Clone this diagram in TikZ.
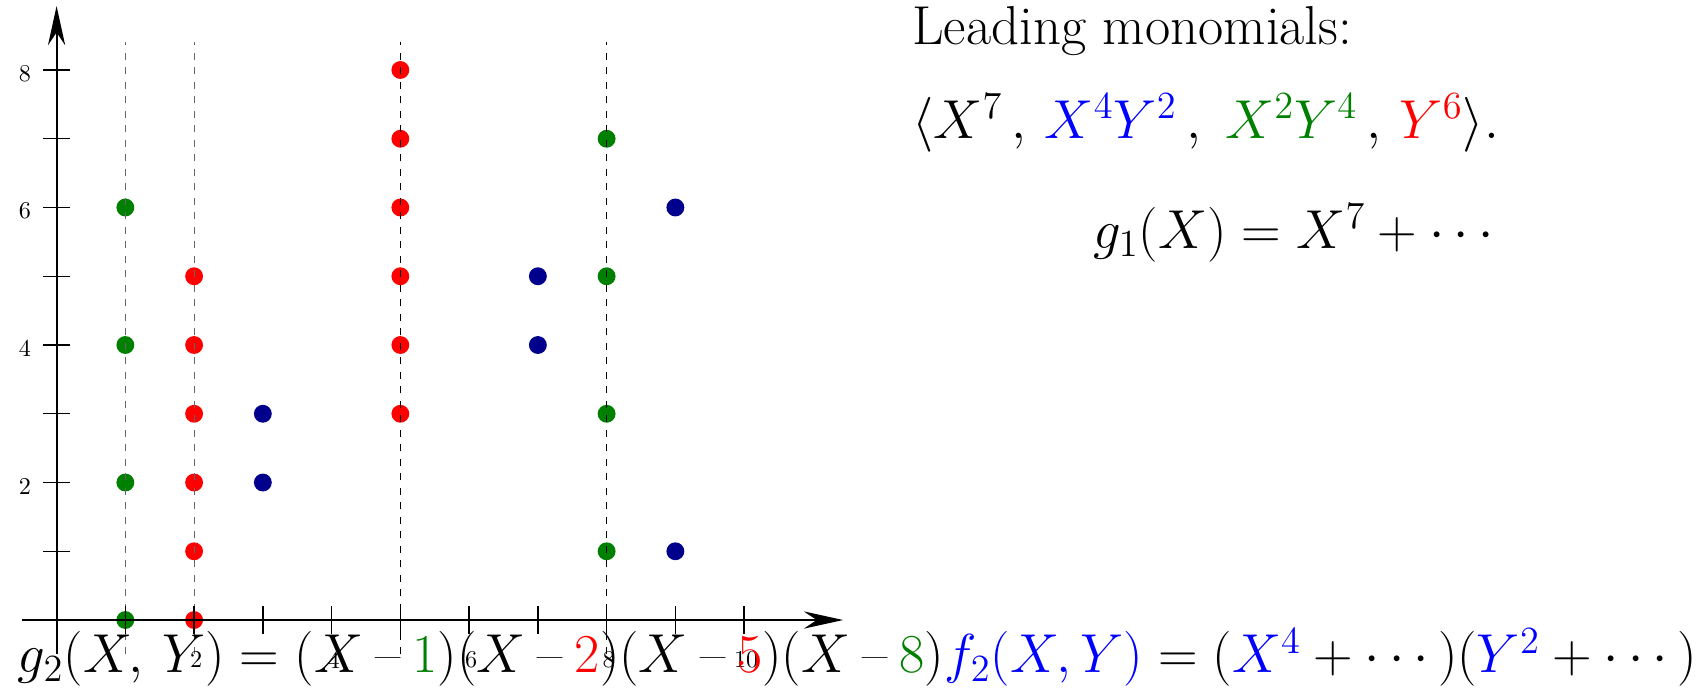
\RequirePackage{fix-cm}
\documentclass[tikz,border=0pt]{standalone}
\usetikzlibrary{arrows.meta}
\definecolor{dotgreen}{RGB}{0,128,0}
\definecolor{dotblue}{RGB}{0,0,140}
\definecolor{txtgreen}{RGB}{0,128,0}
\newcommand{\bigfont}{\fontsize{22.7}{27}\selectfont}
\newcommand{\tdash}{\mathbin{\mbox{--}}}
\begin{document}
\begin{tikzpicture}[
  axisline/.style={line width=0.8pt, -{Stealth[length=5.7mm,width=2.5mm]}},
  tickline/.style={line width=0.6pt},
  guide/.style={dashed, line width=0.45pt},
  dot/.style={circle, inner sep=0pt, minimum size=0.26cm},
  ticklabel/.style={inner sep=0pt, font=\normalsize},
  bigtext/.style={inner sep=0pt, font=\bigfont, anchor=base west}
]
\useasboundingbox (-0.823,-1.004) rectangle (23.99,9.018);
% points
\foreach \x/\y/\c [count=\k] in {1/0/dotgreen,1/2/dotgreen,1/4/dotgreen,1/6/dotgreen,
  2/0/red,2/1/red,2/2/red,2/3/red,2/4/red,2/5/red,
  3/2/dotblue,3/3/dotblue,
  5/3/red,5/4/red,5/5/red,5/6/red,5/7/red,5/8/red,
  7/4/dotblue,7/5/dotblue,
  8/1/dotgreen,8/3/dotgreen,8/5/dotgreen,8/7/dotgreen,
  9/1/dotblue,9/6/dotblue}
  \node[dot, fill=\c] (p\k) at (\x,\y) {};
% guides
\draw[guide, black!60] (1,-0.5) -- (1,8.4);
\draw[guide, black!60] (2,-0.5) -- (2,8.4);
\draw[guide] (5,-0.5) -- (5,8.4);
\draw[guide] (8,-0.5) -- (8,8.4);
% axes
\coordinate (xs) at (-0.5,0);
\coordinate (xe) at (11.44,0);
\coordinate (ys) at (0,-0.5);
\coordinate (ye) at (0,8.93);
\draw[axisline] (xs) -- (xe);
\draw[axisline] (ys) -- (ye);
\foreach \i in {1,...,10} \draw[tickline] (\i,0.2) -- (\i,-0.2);
\foreach \i in {1,...,8} \draw[tickline] (-0.2,\i) -- (0.2,\i);
\foreach \i in {2,4,...,10} \node[ticklabel] (xl\i) at (\i+0.03,-0.58) {\i};
\foreach \i in {2,4,6,8} \node[ticklabel] (yl\i) at (-0.46,\i-0.05) {\i};
% texts
\node[bigtext] (lead) at (12.44,8.37) {Leading monomials:};
\node[bigtext] (mono) at (12.44,7.01) {$\langle X^7\,,\, \textcolor{blue}{X^4Y^2}\,,\; \textcolor{txtgreen}{X^2Y^4}\,,\, \textcolor{red}{Y^6}\rangle.$};
\node[bigtext] (gone) at (15.07,5.41) {$g_1(X) = X^7 + \cdots$};
\node[bigtext] (gtwo) at (-0.57,-0.77) {$g_2(X,\,Y) = (X\tdash\textcolor{txtgreen}{1})(X\tdash\textcolor{red}{2})(X\tdash\textcolor{red}{5})(X\tdash\textcolor{txtgreen}{8})\textcolor{blue}{f_2(X,Y)} = (\textcolor{blue}{X^4}+\cdots\,)(\textcolor{blue}{Y^2}+\cdots\,)$};
\end{tikzpicture}
\end{document}
